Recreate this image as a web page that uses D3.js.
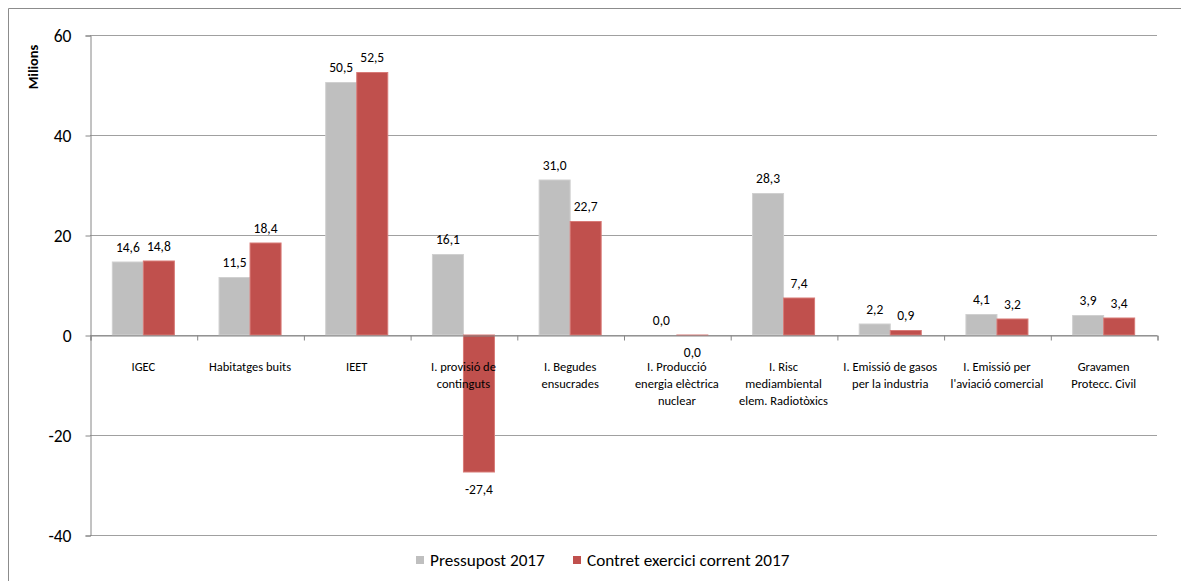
<!DOCTYPE html>
<html>
<head>
<meta charset="utf-8">
<script src="https://cdn.jsdelivr.net/npm/d3@7"></script>
<style>
  html, body { margin: 0; padding: 0; background: #fff; }
  svg { display: block; }
  text { font-family: Carlito, "Liberation Sans", Arial, sans-serif; fill: #000; }
</style>
</head>
<body>
<script>
const categories = [
  ["IGEC"],
  ["Habitatges buits"],
  ["IEET"],
  ["I. provisió de", "continguts"],
  ["I. Begudes", "ensucrades"],
  ["I. Producció", "energia elèctrica", "nuclear"],
  ["I. Risc", "mediambiental", "elem. Radiotòxics"],
  ["I. Emissió de gasos", "per la industria"],
  ["I. Emissió per", "l'aviació comercial"],
  ["Gravamen", "Protecc. Civil"]
];
const seriesNames = ["Pressupost 2017", "Contret exercici corrent 2017"];
const pressupost = [14.6, 11.5, 50.5, 16.1, 31.0, 0.0, 28.3, 2.2, 4.1, 3.9];
const contret = [14.8, 18.4, 52.5, -27.4, 22.7, -0.04, 7.4, 0.9, 3.2, 3.4];
const yTicks = [-40, -20, 0, 20, 40, 60];
const colors = ["#BFBFBF", "#C0504D"];
const strokes = ["#D0D0D0", "#D87a77"];

const W = 1181, H = 581;
const margin = {left: 90, right: 24, top: 35, bottom: 46};
const svg = d3.select("body").append("svg").attr("width", W).attr("height", H);

// outer frame
svg.append("path").attr("d", `M8.5,${H} V8.5 H${W}`).attr("fill", "none").attr("stroke", "#8c8c8c").attr("stroke-width", 1);

const x = d3.scaleBand().domain(d3.range(categories.length)).range([margin.left, W - margin.right]).paddingInner(0).paddingOuter(0);
const y = d3.scaleLinear().domain([-40, 60]).range([H - margin.bottom, margin.top]);
const xs = d3.scaleBand().domain([0, 1]).range([0, x.bandwidth()]).paddingInner(0).paddingOuter(0.72);

const loc = d3.formatLocale({decimal: ",", thousands: ".", grouping: [3], currency: ["", "€"], minus: "-"});
const fmt = loc.format(".1f");
const fmtInt = loc.format("d");

// gridlines
svg.append("g").selectAll("line").data(yTicks).join("line")
  .attr("x1", margin.left).attr("x2", W - margin.right)
  .attr("y1", d => Math.round(y(d)) + 0.5).attr("y2", d => Math.round(y(d)) + 0.5)
  .attr("stroke", "#a0a0a0").attr("stroke-width", 1);

// y axis
const yAxis = d3.axisLeft(y).tickValues(yTicks).tickSize(5).tickPadding(14).tickFormat(fmtInt);
const gy = svg.append("g").attr("transform", `translate(${margin.left + 0.5},0.5)`).call(yAxis);
gy.select(".domain").attr("stroke", "#868686");
gy.selectAll(".tick line").attr("stroke", "#868686");
gy.selectAll(".tick text").attr("font-size", 17.5).style("font-family", 'Carlito, "Liberation Sans", Arial, sans-serif').attr("fill", "#000");

// y title
svg.append("text").attr("transform", `translate(33,67) rotate(-90)`)
  .attr("text-anchor", "middle").attr("dy", "0.35em").attr("font-size", 14.5).attr("font-weight", "bold").text("Milions");

// bars
const data = categories.map((c, i) => ({i, vals: [pressupost[i], contret[i]]}));
const groups = svg.append("g").selectAll("g").data(data).join("g")
  .attr("transform", d => `translate(${x(d.i)},0)`);

groups.selectAll("rect").data(d => d.vals.map((v, s) => ({v, s}))).join("rect")
  .attr("x", d => xs(d.s))
  .attr("width", xs.bandwidth())
  .attr("y", d => y(Math.max(0, d.v)))
  .attr("height", d => Math.abs(y(d.v) - y(0)))
  .attr("fill", d => colors[d.s])
  .attr("stroke", d => strokes[d.s]).attr("stroke-width", 1);

// value labels
groups.selectAll("text.val").data(d => d.vals.map((v, s) => ({v, s}))).join("text")
  .attr("class", "val")
  .attr("x", d => xs(d.s) + xs.bandwidth() / 2)
  .attr("y", d => d.v < 0 ? y(d.v) + 17 : y(d.v) - 15)
  .attr("dy", "0.35em")
  .attr("text-anchor", "middle").attr("font-size", 13.5)
  .text(d => fmt(d.v));

// x axis (zero line + ticks)
const xAxisScale = d3.scaleLinear().domain([0, categories.length]).range([margin.left, W - margin.right]);
const gx = svg.append("g").attr("transform", `translate(0.5,${Math.round(y(0)) + 0.5})`)
  .call(d3.axisBottom(xAxisScale).tickValues(d3.range(categories.length + 1)).tickSize(5).tickFormat(""));
gx.select(".domain").attr("stroke", "#868686");
gx.selectAll(".tick line").attr("stroke", "#868686");

// category labels
const cl = svg.append("g").selectAll("text").data(categories).join("text")
  .attr("x", (d, i) => x(i) + x.bandwidth() / 2)
  .attr("y", y(0) + 32)
  .attr("text-anchor", "middle").attr("font-size", 12.5);
cl.selectAll("tspan").data(d => d).join("tspan")
  .attr("x", function() { return this.parentNode.getAttribute("x"); })
  .attr("dy", (d, j) => j === 0 ? "0.35em" : 17)
  .text(d => d);

// legend
const leg = svg.append("g").attr("transform", `translate(416,560)`);
const legX = [0, 157];
seriesNames.forEach((n, s) => {
  const g = leg.append("g").attr("transform", `translate(${legX[s]},0)`);
  g.append("rect").attr("x", 0).attr("y", -4).attr("width", 8).attr("height", 8).attr("fill", colors[s]);
  g.append("text").attr("x", 14).attr("y", 0).attr("dy", "0.35em").attr("font-size", 17.2).text(n);
});
</script>
</body>
</html>
